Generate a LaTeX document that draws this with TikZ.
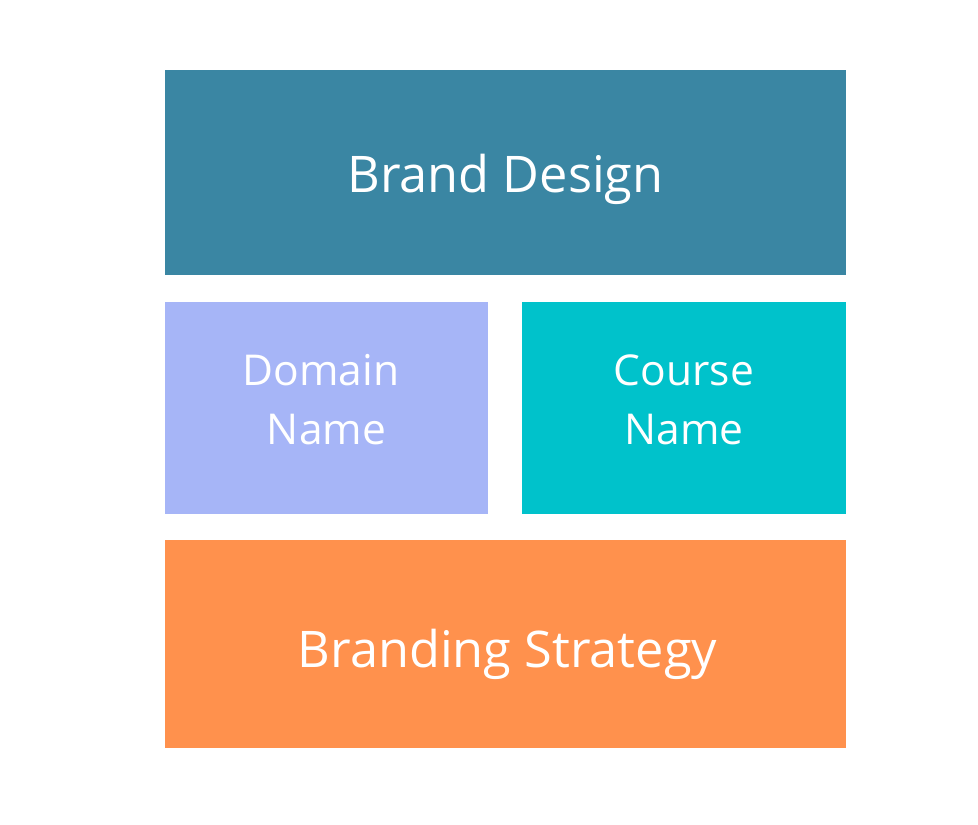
\documentclass[tikz,border=0pt]{standalone}
\usepackage{fontspec}
\setmainfont{Open Sans}
\definecolor{cblue}{HTML}{3A86A3}
\definecolor{clav}{HTML}{A6B5F7}
\definecolor{cteal}{HTML}{00C2CB}
\definecolor{corange}{HTML}{FF914D}
\begin{document}
\begin{tikzpicture}[x=1pt,y=-1pt,
  blk/.style={anchor=north west,inner sep=0pt,outer sep=0pt},
  lbl/.style={inner sep=0pt,text=white,align=center},
  big/.style={font=\fontsize{50.5}{60}\selectfont},
  small/.style={font=\fontsize{42.5}{59}\selectfont}]
\useasboundingbox[fill=white] (0,0) rectangle (978,825);
\node[blk,fill=cblue,minimum width=681pt,minimum height=205pt] (bd) at (165,70) {};
\node[blk,fill=clav,minimum width=323pt,minimum height=212pt] (dn) at (165,302) {};
\node[blk,fill=cteal,minimum width=324pt,minimum height=212pt] (cn) at (522,302) {};
\node[blk,fill=corange,minimum width=681pt,minimum height=208pt] (bs) at (165,540) {};
\node[lbl,big] (bdt) at ([yshift=-7pt]bd.center) {Brand Design};
\node[lbl,small] (dnt) at ([yshift=8pt]dn.center) {Domain\hspace*{11pt}\\Name};
\node[lbl,small] (cnt) at ([yshift=8pt]cn.center) {Course\\Name};
\node[lbl,big] (bst) at ([xshift=2pt,yshift=-10pt]bs.center) {Branding Strategy};
\end{tikzpicture}
\end{document}
